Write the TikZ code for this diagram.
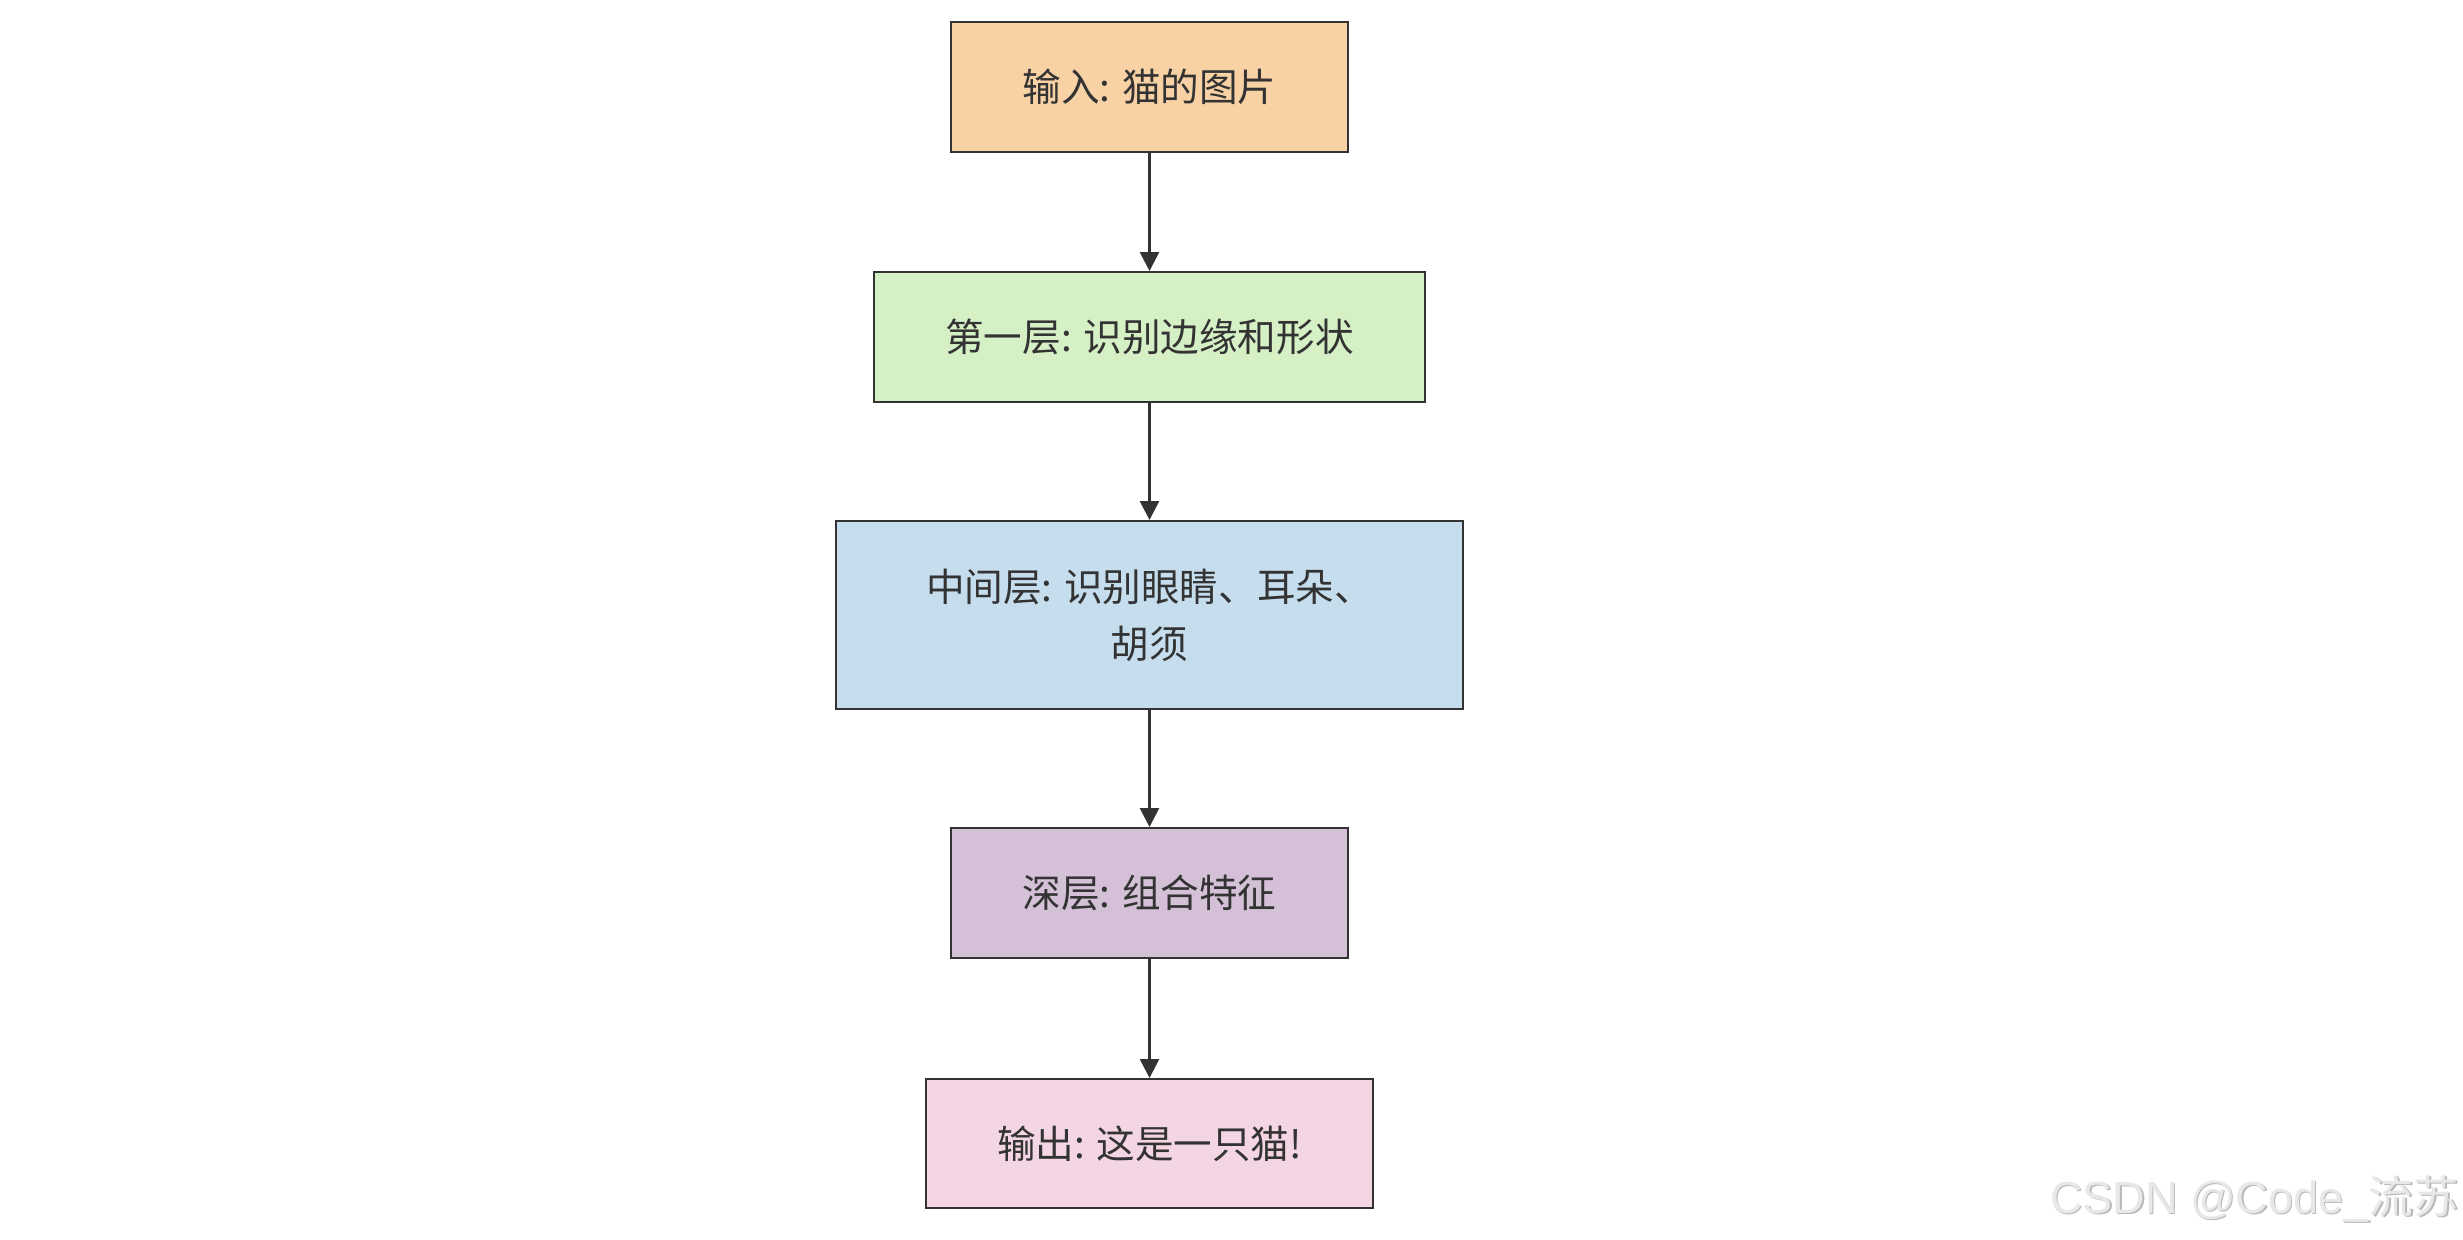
\documentclass[tikz,border=0pt]{standalone}
\usepackage{fontspec}
\setmainfont{Noto Sans CJK SC}
\newfontfamily\wmlatin{Liberation Sans}
\newfontfamily\wmcjk{Noto Sans CJK SC}
\usetikzlibrary{arrows.meta}
\definecolor{edgecol}{HTML}{333333}
\definecolor{txtcol}{HTML}{333333}
\definecolor{fillA}{HTML}{F8D1A5}
\definecolor{fillB}{HTML}{D6F0C6}
\definecolor{fillC}{HTML}{C6DDEE}
\definecolor{fillD}{HTML}{D4C0D7}
\definecolor{fillE}{HTML}{F4D5E3}
\tikzset{
  stepbox/.style={draw=edgecol, line width=1pt, rectangle, inner sep=0pt,
    text=txtcol, align=center, font=\fontsize{19.3pt}{28.5pt}\selectfont},
  flowarrow/.style={draw=edgecol, line width=1.3pt,
    -{Triangle[length=9.5pt,width=9.5pt]}},
  wmtext/.style={inner sep=0pt, anchor=base east, font=\fontsize{22.5pt}{25pt}\selectfont}
}
\begin{document}
\begin{tikzpicture}[x=0.5pt,y=-0.5pt]
\useasboundingbox[fill=white] (0,0) rectangle (2463,1239);
\node[stepbox, fill=fillA, minimum width=198.5pt, minimum height=65pt] (in) at (1149.5,87) {输入: 猫的图片};
\node[stepbox, fill=fillB, minimum width=275.5pt, minimum height=65pt] (l1) at (1149.5,337) {第一层: 识别边缘和形状};
\node[stepbox, fill=fillC, minimum width=313.5pt, minimum height=94pt] (l2) at (1149.5,615) {中间层: 识别眼睛、耳朵、\\胡须};
\node[stepbox, fill=fillD, minimum width=198.5pt, minimum height=65pt] (l3) at (1149.5,893) {深层: 组合特征};
\node[stepbox, fill=fillE, minimum width=223.5pt, minimum height=64.5pt] (out) at (1149.5,1143.5) {输出: 这是一只猫!};
\draw[flowarrow] (in.south) -- (l1.north);
\draw[flowarrow] (l1.south) -- (l2.north);
\draw[flowarrow] (l2.south) -- (l3.north);
\draw[flowarrow] (l3.south) -- (out.north);
\node[wmtext, text=gray!55] (wmshadow) at (2460.5,1214.5) {\wmlatin CSDN @Code\_\wmcjk 流苏};
\node[wmtext, text=gray!18] (wm) at (2459,1213) {\wmlatin CSDN @Code\_\wmcjk 流苏};
\end{tikzpicture}
\end{document}
